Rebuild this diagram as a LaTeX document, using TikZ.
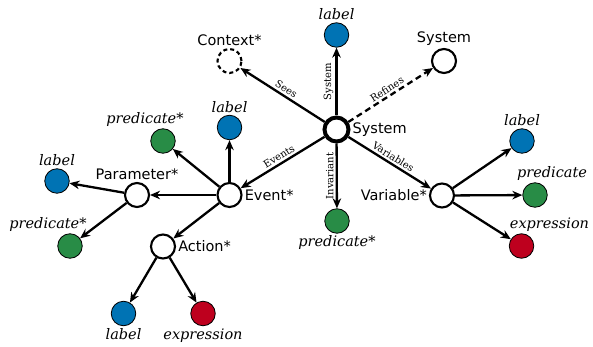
\documentclass[tikz,border=0pt]{standalone}
\usepackage{fontspec}
\setmainfont{DejaVu Serif}
\setsansfont{DejaVu Sans}
\usetikzlibrary{arrows.meta,positioning}
\definecolor{lblue}{RGB}{0,115,180}
\definecolor{lgreen}{RGB}{40,140,70}
\definecolor{lred}{RGB}{190,0,30}

\begin{document}
\begin{tikzpicture}[x=1pt,y=-1pt,
    font=\sffamily\fontsize{14.5}{17}\selectfont,
    every label/.style={inner sep=2pt},
    elem/.style={circle,draw,line width=2.1pt,fill=white,minimum size=24pt,inner sep=0pt},
    leaf/.style={circle,draw,line width=0.8pt,fill=#1,minimum size=24.5pt,inner sep=0pt},
    lbl/.style={font=\rmfamily\itshape\fontsize{14.5}{17}\selectfont},
    rel/.style={-{Stealth[length=10pt,width=8.5pt]},line width=2.3pt},
    tag/.style={font=\rmfamily\fontsize{10}{12}\selectfont,above,inner sep=2pt}]
    \useasboundingbox (0,0) rectangle (593,347);

    % system and its parts
    \node[elem,line width=4pt,label={right:System}] (sys) at (336.5,129.5) {};
    \node[elem,dash pattern=on 4pt off 3pt,label={above:Context*}] (ctx) at (229.5,61) {};
    \node[elem,label={above:System}] (refsys) at (444,61) {};
    \node[leaf=lblue,label={[lbl]above:label}] (syslab) at (336.5,35) {};
    \node[leaf=lgreen,label={[lbl]below:predicate*}] (inv) at (337,221) {};
    \node[elem,label={left:Variable*}] (var) at (442,195.5) {};
    \node[elem,label={right:Event*}] (evt) at (229.5,195) {};

    \draw[rel] (sys) -- node[tag,sloped]{Sees} (ctx);
    \draw[rel] (sys) -- node[tag,sloped]{System} (syslab);
    \draw[rel,dash pattern=on 6pt off 4pt] (sys) -- node[tag,sloped]{Refines} (refsys);
    \draw[rel] (sys) -- node[tag,rotate=90]{Invariant} (inv);
    \draw[rel] (sys) -- node[tag,sloped]{Variables} (var);
    \draw[rel] (sys) -- node[tag,sloped]{Events} (evt);

    % variable
    \node[leaf=lblue,label={[lbl]above:label}] (varlab) at (522,141) {};
    \node[leaf=lgreen,label={[lbl,xshift=17pt]above:predicate}] (varpred) at (535,195) {};
    \node[leaf=lred,label={[lbl,xshift=28pt]above:expression}] (varexpr) at (521.5,246) {};
    \foreach \t in {varlab,varpred,varexpr}
        \draw[rel] (var) -- (\t);

    % event
    \node[leaf=lblue,label={[lbl]above:label}] (evlab) at (229.5,127.5) {};
    \node[leaf=lgreen,label={[lbl,xshift=-18pt]above:predicate*}] (evpred) at (163,141) {};
    \node[elem,label={above:Parameter*}] (par) at (137,195) {};
    \node[elem,label={right:Action*}] (act) at (163,246.5) {};
    \foreach \t in {evlab,evpred,par,act}
        \draw[rel] (evt) -- (\t);

    % parameter
    \node[leaf=lblue,label={[lbl]above:label}] (parlab) at (57,181) {};
    \node[leaf=lgreen,label={[lbl,xshift=-22pt]above:predicate*}] (parpred) at (70,246) {};
    \foreach \t in {parlab,parpred}
        \draw[rel] (par) -- (\t);

    % action
    \node[leaf=lblue,label={[lbl]below:label}] (actlab) at (123.5,313.5) {};
    \node[leaf=lred,label={[lbl]below:expression}] (actexpr) at (203,313.5) {};
    \foreach \t in {actlab,actexpr}
        \draw[rel] (act) -- (\t);
\end{tikzpicture}
\end{document}
